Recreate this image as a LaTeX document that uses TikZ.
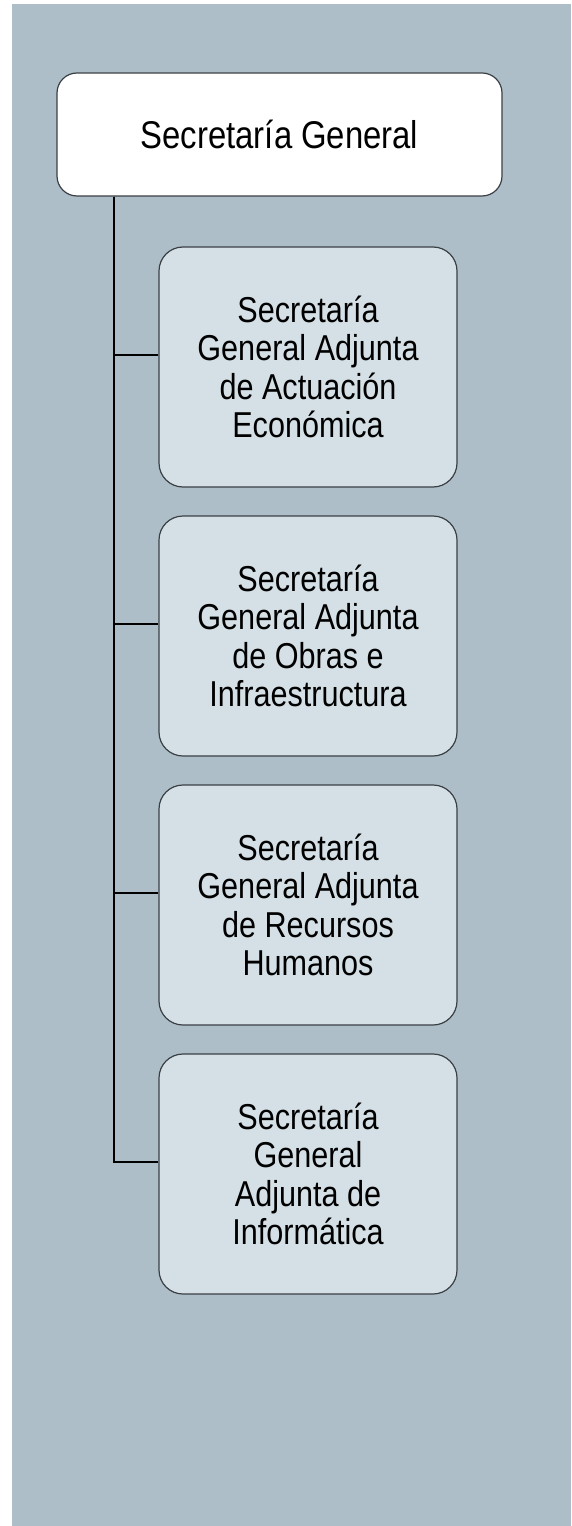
\documentclass[tikz,border=0pt]{standalone}
\usepackage{fontspec}
\setmainfont{Liberation Sans}[FakeStretch=0.85]
\usetikzlibrary{positioning}
\definecolor{panel}{HTML}{ADBEC8}
\definecolor{subfill}{HTML}{D4E0E6}
\definecolor{edge}{HTML}{3A3F44}

\begin{document}
\begin{tikzpicture}[x=0.75pt, y=-0.75pt,
   head/.style={rectangle, rounded corners=15pt, draw=edge, line width=0.9pt, fill=white,
                minimum width=333.75pt, minimum height=92.25pt, font=\fontsize{29}{33}\selectfont},
   sub/.style={rectangle, rounded corners=18pt, draw=edge, line width=0.9pt, fill=subfill,
               minimum width=223.5pt, minimum height=180pt, align=center,
               font=\fontsize{27}{28.7}\selectfont}]
  \useasboundingbox (0,0) rectangle (571,1526);
  \fill[panel] (12,4) rectangle (571,1526);
  \coordinate (trunk) at (114,0);
  \node[head] (sg) at (279.5,134.5) {Secretaría General};
  \node[sub] (eco) at (308,367)  {Secretaría\\General Adjunta\\de Actuación\\Económica};
  \node[sub] (obr) at (308,636)  {Secretaría\\General Adjunta\\de Obras e\\Infraestructura};
  \node[sub] (rrh) at (308,905)  {Secretaría\\General Adjunta\\de Recursos\\Humanos};
  \node[sub] (inf) at (308,1174) {Secretaría\\General\\Adjunta de\\Informática};
  \foreach \t in {eco, obr, rrh, inf}
     \draw[black, line width=0.9pt] (sg.south -| trunk) |- ([yshift=9pt]\t.west);
\end{tikzpicture}
\end{document}
